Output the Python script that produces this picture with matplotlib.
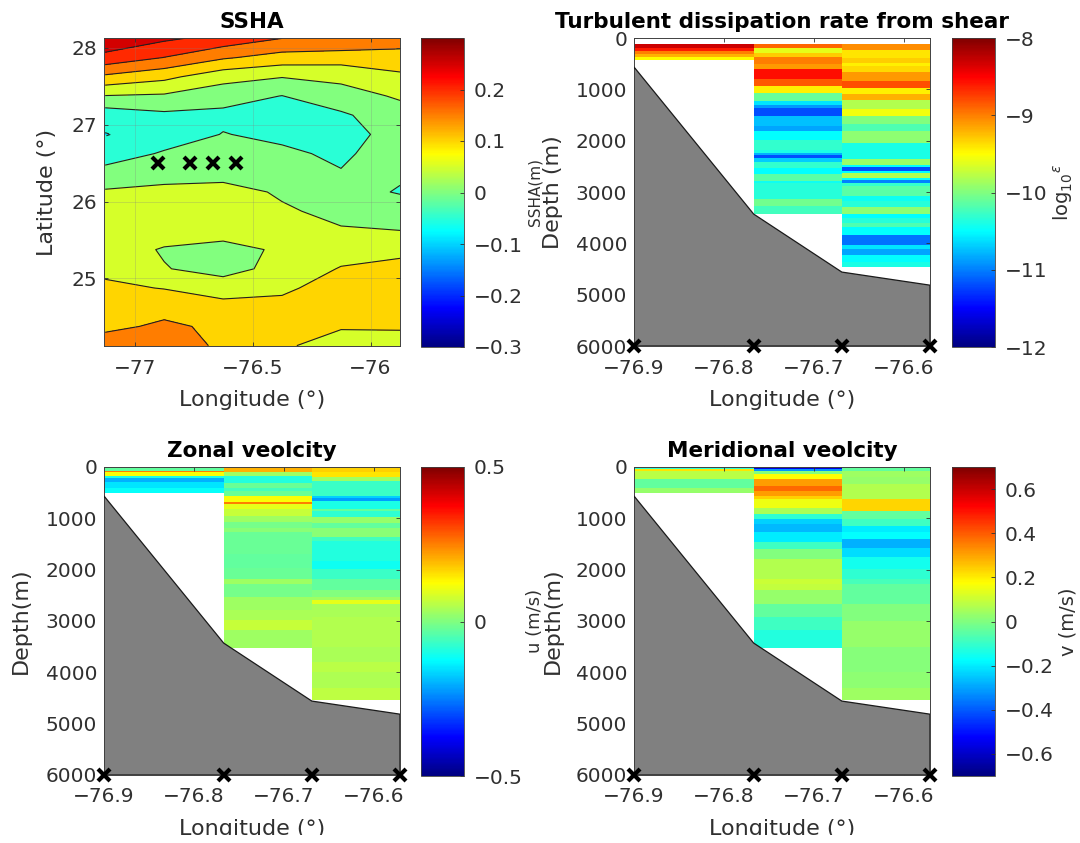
import numpy as np
import matplotlib
matplotlib.use("Agg")
import matplotlib.pyplot as plt
from matplotlib.cm import ScalarMappable
from matplotlib.colors import Normalize, LinearSegmentedColormap
from matplotlib.patches import Rectangle

plt.rcParams['font.family'] = ['DejaVu Sans']
plt.rcParams['mathtext.fontset'] = 'dejavusans'

# ---------- data ----------
grid_lon = [-77.125, -76.875, -76.625, -76.375, -76.125, -75.875]
grid_lat = [24.125, 24.375, 24.625, 24.875, 25.125, 25.375, 25.625, 25.875, 26.125,
            26.375, 26.625, 26.875, 27.125, 27.375, 27.625, 27.875, 28.125]
ssha_w1 = [.175, .139, .13, .11, .088, .08, .07, .06, .055, .02, -.03, -.052, -.03, .048, .14, .235, .289]
ssha_w2 = [.18, .158, .135, .098, .053, .045, .08, .07, .063, .03, .006, -.03, -.01, .043, .113, .199, .259]
ssha_w3 = [.14, .141, .115, .08, .029, .034, .07, .07, .065, .035, .017, .002, -.012, .02, .068, .156, .233]
ssha_w4 = [.105, .11, .108, .095, .069, .057, .065, .055, .045, .03, .01, -.012, -.025, -.001, .052, .13, .2]
ssha_w5 = [.085, .103, .113, .112, .103, .08, .053, .04, .025, .003, -.01, -.025, -.01, .04, .056, .127, .19]
ssha_w6 = [.08, .105, .115, .118, .118, .085, .05, .037, -.005, .0095, .03, .025, .04, .053, .09, .13, .174]
ssha_levels = [-.1, -.05, 0, .05, .1, .15, .2, .25, .3]

station_lon = [-76.9, -76.767, -76.669, -76.571]
station_lat = [26.5, 26.5, 26.5, 26.5]
bottom_depth = [565, 3430, 4560, 4815]

eps1_z = [125, 190, 250, 310, 370, 430]
eps1_v = [-8.3, -8.6, -9.0, -9.2, -9.5]
eps2_z = [123, 190, 300, 370, 510, 600, 800, 940, 1080, 1230, 1300, 1360, 1510, 1720, 1810, 1980, 2183,
          2235, 2280, 2345, 2425, 2530, 2640, 2780, 2830, 3145, 3275, 3420]
eps2_v = [-8.9, -9.6, -9.3, -9.0, -9.1, -8.55, -8.85, -9.45, -10.1, -10.6, -10.9, -11.2, -10.75, -10.85, -10.5, -10.3,
          -10.4, -10.8, -11.2, -10.7, -10.3, -10.5, -10.15, -10.45, -10.35, -10.05, -10.25]
eps3_z = [125, 235, 385, 480, 545, 660, 840, 970, 1100, 1210, 1380, 1510, 1685, 1810, 2040, 2360, 2475, 2520, 2590,
          2625, 2725, 2770, 2830, 2885, 3080, 3170, 3300, 3420, 3515, 3610, 3690, 3840, 4035, 4115, 4230, 4360, 4460]
eps3_v = [-9.05, -9.4, -9.3, -9.45, -9.35, -9.1, -8.8, -9.45, -9.2, -9.8, -9.55, -10, -10.2, -9.95, -10.4, -9.9,
          -10.5, -11.2, -10.5, -9.8, -10.5, -11.0, -10.3, -10.15, -10.45, -10.35, -9.95, -10.5, -10.35, -10.2,
          -10.5, -11.05, -10.6, -10.85, -10.5, -10.4]

u1_z = [0, 72, 92, 185, 215, 300, 410, 510]
u1_v = [-.03, .25, .12, -.1, -.2, -.15, -.12]
u2_z = [0, 105, 170, 320, 410, 460, 560, 690, 720, 820, 950, 1080, 1180, 1275, 1700, 1960, 2185, 2280,
        2530, 2790, 2985, 3180, 3530]
u2_v = [.2, .03, -.09, -.02, -.06, -.02, .12, .25, .1, .07, .03, -.01, .01, -.02, -.03, -.02, .03,
        -.01, .03, .04, .07, .03]
u3_z = [0, 105, 200, 280, 560, 610, 660, 820, 865, 970, 1100, 1180, 1370, 1450, 1830, 1990, 2185, 2280,
        2400, 2530, 2595, 2670, 2920, 3500, 3800, 4000, 4300, 4530]
u3_v = [.17, .15, .03, -.07, -.17, -.22, -.1, -.03, -.08, .02, -.03, .01, -.06, -.09, -.11, -.07, -.03,
        -.03, 0, .03, .1, .04, .05, .04, .055, .045, .06]

v1_z = [0, 40, 85, 235, 400, 510]
v1_v = [-.11, .21, .08, -.04, .03]
v2_z = [0, 40, 85, 140, 235, 365, 460, 560, 625, 790, 920, 1015, 1110, 1275, 1470, 1600, 1795, 2185, 2280,
        2400, 2660, 2920, 3180, 3530]
v2_v = [-.56, -.32, 0, .17, .31, .38, .31, .24, .15, .06, -.11, -.24, -.27, -.2, -.09, 0, .07, .1,
        .09, .03, -.04, -.09, -.13]
v3_z = [0, 85, 200, 330, 625, 850, 1015, 1145, 1275, 1405, 1570, 1760, 1990, 2185, 2280, 2660, 3000, 3500, 4000,
        4300, 4530]
v3_v = [-.04, .04, .03, .07, .23, -.04, -.09, -.2, -.17, -.28, -.22, -.15, -.11, -.08, -.04, 0, .03, .01, .02, .04]

ssha_cbar_ticks = [-.3, -.2, -.1, 0, .1, .2]
ssha_cbar_labels = ['\u22120.3', '\u22120.2', '\u22120.1', '0', '0.1', '0.2']
eps_cbar_ticks = [-12, -11, -10, -9, -8]
eps_cbar_labels = ['\u221212', '\u221211', '\u221210', '\u22129', '\u22128']
u_cbar_ticks = [-.5, 0, .5]
u_cbar_labels = ['\u22120.5', '0', '0.5']
v_cbar_ticks = [-.6, -.4, -.2, 0, .2, .4, .6]
v_cbar_labels = ['\u22120.6', '\u22120.4', '\u22120.2', '0', '0.2', '0.4', '0.6']
section_lon_ticks = [-76.9, -76.8, -76.7, -76.6]
section_lon_labels = ['\u221276.9', '\u221276.8', '\u221276.7', '\u221276.6']
depth_ticks = [0, 1000, 2000, 3000, 4000, 5000, 6000]

# ---------- layout ----------
W, H = 1080, 843
fig = plt.figure(figsize=(W / 100, H / 100), dpi=100, facecolor='white')
TXT = '#303030'
TICK_FS = 14.5
LAB_FS = 16
TITLE_FS = 15.5

# MATLAB-style jet
mjet = LinearSegmentedColormap('mjet', {
    'red':   [(0, 0, 0), (.375, 0, 0), (.625, 1, 1), (.875, 1, 1), (1, .5, .5)],
    'green': [(0, 0, 0), (.125, 0, 0), (.375, 1, 1), (.625, 1, 1), (.875, 0, 0), (1, 0, 0)],
    'blue':  [(0, .5, .5), (.125, 1, 1), (.375, 1, 1), (.625, 0, 0), (1, 0, 0)],
}, N=256)


def px_axes(x0, y0, x1, y1):
    return fig.add_axes([x0 / W, 1 - y1 / H, (x1 - x0) / W, (y1 - y0) / H])


def style(ax):
    ax.tick_params(direction='in', length=3, width=0.6, colors=TXT, labelsize=TICK_FS,
                   top=True, right=True, pad=5)
    ax.tick_params(axis='x', pad=9)
    for s in ax.spines.values():
        s.set_linewidth(0.7)
        s.set_color('#404040')


def colorbar(x0, y0, vmin, vmax, ticks, labels, label=None, label_x=None):
    cax = px_axes(x0, y0, x0 + 43, y0 + 309)
    sm = ScalarMappable(norm=Normalize(vmin, vmax), cmap=mjet)
    cb = fig.colorbar(sm, cax=cax)
    cb.set_ticks(ticks, labels=labels)
    cax.tick_params(direction='in', length=3, width=0.6, colors=TXT, labelsize=TICK_FS, pad=7)
    cb.outline.set_linewidth(0.6)
    cb.outline.set_edgecolor('#404040')
    if label:
        cax.text((label_x - x0) / 43, 0.5, label, transform=cax.transAxes, rotation=90, ha='center',
                 va='center', fontsize=14, color=TXT)


def section(x0, y0, columns, vmin, vmax, title, ylab, ylab_x, extra=None, extra_fs=11):
    ax = px_axes(x0, y0, x0 + 296, y0 + 308)
    for i, (z, val) in enumerate(columns):
        ax.pcolormesh([station_lon[i], station_lon[i + 1]], z, np.array(val)[:, None],
                      cmap=mjet, vmin=vmin, vmax=vmax, shading='flat', linewidth=0, antialiased=False)
    xs = station_lon + [station_lon[-1], station_lon[0]]
    ys = bottom_depth + [6000, 6000]
    ax.fill(xs, ys, facecolor='#808080', edgecolor='#1a1a1a', linewidth=0.9, zorder=3)
    ax.plot(station_lon, [6000] * 4, 'x', color='k', ms=8.5, mew=3, clip_on=False, zorder=5)
    ax.set_xlim(station_lon[0], station_lon[-1])
    ax.set_ylim(6000, 0)
    ax.set_xticks(section_lon_ticks, labels=section_lon_labels)
    ax.set_yticks(depth_ticks)
    style(ax)
    ax.set_title(title, fontsize=TITLE_FS, fontweight='bold', color='k', pad=7)
    ax.set_xlabel('Longitude (\u00b0)', fontsize=LAB_FS, color=TXT, va='center')
    ax.xaxis.set_label_coords(0.5, -(400 - 346) / 308)
    ax.set_ylabel(ylab, fontsize=LAB_FS, color=TXT, va='center')
    ax.yaxis.set_label_coords((ylab_x - x0) / 296, 0.5)
    if extra:
        ax.text((535 - x0) / 296, 0.5, extra, transform=ax.transAxes, rotation=90, ha='center',
                va='center', fontsize=extra_fs, color=TXT, clip_on=False)
    return ax


# ---------- SSHA map ----------
ax1 = px_axes(104, 38, 400, 346)
ssha = np.column_stack([ssha_w1, ssha_w2, ssha_w3, ssha_w4, ssha_w5, ssha_w6])
ssha_norm = Normalize(-0.3, 0.3)
ax1.contourf(grid_lon, grid_lat, ssha, levels=ssha_levels,
             colors=[mjet(ssha_norm(l)) for l in ssha_levels[:-1]])
ax1.contour(grid_lon, grid_lat, ssha, levels=ssha_levels, colors='#202020', linewidths=0.8)
ax1.plot(station_lon, station_lat, 'x', color='k', ms=8.5, mew=3, zorder=5)
ax1.set_xlim(-77.13, -75.875)
ax1.set_ylim(24.12, 28.13)
ax1.set_xticks([-77, -76.5, -76], labels=['\u221277', '\u221276.5', '\u221276'])
ax1.set_yticks([25, 26, 27, 28])
ax1.grid(True, color='#808080', alpha=0.3, linewidth=0.6)
ax1.set_axisbelow(False)
style(ax1)
ax1.set_title('SSHA', fontsize=TITLE_FS, fontweight='bold', color='k', pad=7)
ax1.set_xlabel('Longitude (\u00b0)', fontsize=LAB_FS, color=TXT, va='center')
ax1.xaxis.set_label_coords(0.5, -(400 - 346) / 308)
ax1.set_ylabel('Latitude (\u00b0)', fontsize=LAB_FS, color=TXT, va='center')
ax1.yaxis.set_label_coords((47 - 104) / 296, 0.5)
colorbar(421, 38, -0.3, 0.3, ssha_cbar_ticks, ssha_cbar_labels)

# ---------- sections ----------
section(634, 38, [(eps1_z, eps1_v), (eps2_z, eps2_v), (eps3_z, eps3_v)], -12, -8,
        'Turbulent dissipation rate from shear', 'Depth (m)', 553, extra='SSHA(m)', extra_fs=11)
colorbar(952, 38, -12, -8, eps_cbar_ticks, eps_cbar_labels,
         label=r'$\mathrm{log}_{10}{}^{\epsilon}$', label_x=1063)

section(104, 467, [(u1_z, u1_v), (u2_z, u2_v), (u3_z, u3_v)], -0.5, 0.5,
        'Zonal veolcity', 'Depth(m)', 21)
colorbar(421, 467, -0.5, 0.5, u_cbar_ticks, u_cbar_labels)

section(634, 467, [(v1_z, v1_v), (v2_z, v2_v), (v3_z, v3_v)], -0.7, 0.7,
        'Meridional veolcity', 'Depth(m)', 553, extra='u (m/s)', extra_fs=13)
colorbar(952, 467, -0.7, 0.7, v_cbar_ticks, v_cbar_labels, label='v (m/s)', label_x=1068)

# the source picture is cropped just under the lower axis labels
fig.add_artist(Rectangle((0, 0), 1, (H - 835) / H, transform=fig.transFigure,
                         facecolor='white', edgecolor='none', zorder=20))

fig.savefig('out.png', dpi=100)
